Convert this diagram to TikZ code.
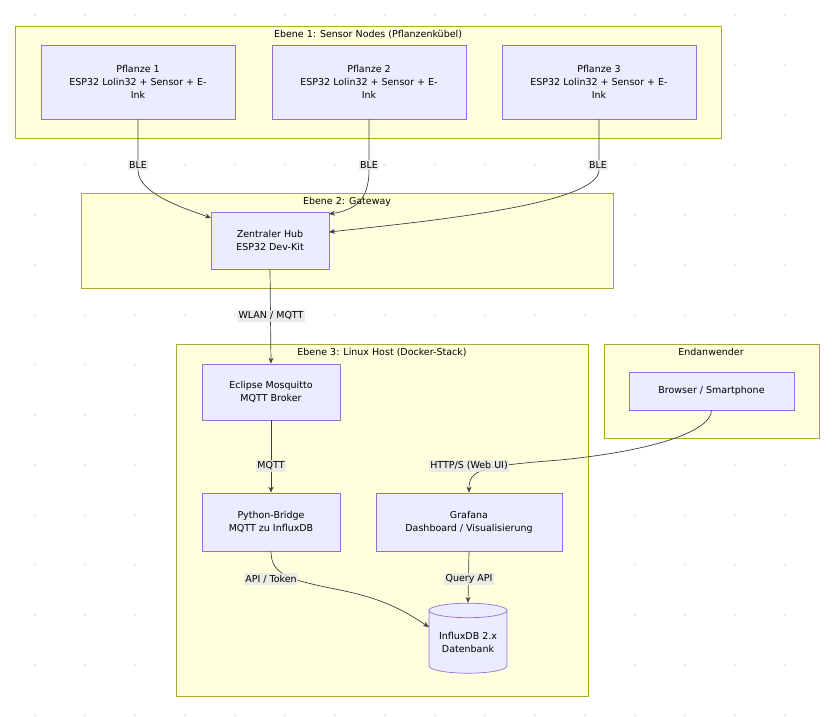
\documentclass[tikz,border=0pt]{standalone}
\usepackage{fontspec}
\setmainfont{DejaVu Sans}
\usetikzlibrary{shapes.geometric,arrows.meta}
\definecolor{nfill}{HTML}{ECECFF}
\definecolor{nbord}{HTML}{9370DB}
\definecolor{cfill}{HTML}{FFFFDE}
\definecolor{cbord}{HTML}{AAAA33}
\definecolor{lbl}{HTML}{E8E8E8}
\begin{document}
\begin{tikzpicture}[x=1pt,y=-1pt,
  font=\fontsize{9.5}{13}\selectfont,
  clus/.style={draw=cbord,fill=cfill,line width=0.7pt},
  ctitle/.style={anchor=north,inner sep=1pt},
  box/.style={draw=nbord,fill=nfill,line width=0.7pt,align=center,inner sep=0pt},
  elab/.style={fill=lbl,fill opacity=0.85,text opacity=1,inner sep=1.5pt},
  edge/.style={draw=black!75,line width=0.7pt,-{Stealth[length=6pt,width=5pt]}}]
\useasboundingbox (0,0) rectangle (832,716);
\fill[white] (0,0) rectangle (832,716);
\foreach \x in {35,85,...,835} \foreach \y in {15,65,...,715} \fill[black!12] (\x,\y) circle (1.2);
% clusters
\draw[clus] (15,26) rectangle (721,138);
\node[ctitle] (t1) at (368,29) {Ebene 1: Sensor Nodes (Pflanzenkübel)};
\draw[clus] (81,193) rectangle (613,288);
\node[ctitle] (t2) at (347,196) {Ebene 2: Gateway};
\draw[clus] (176,344) rectangle (588,696);
\node[ctitle] (t3) at (382,347) {Ebene 3: Linux Host (Docker-Stack)};
\draw[clus] (604,344) rectangle (819,438);
\node[ctitle] (t4) at (711,347) {Endanwender};
% nodes
\node[box,minimum width=194,minimum height=74] (p1) at (138,82) {Pflanze 1\\ESP32 Lolin32 + Sensor + E-\\Ink};
\node[box,minimum width=194,minimum height=74] (p2) at (369,82) {Pflanze 2\\ESP32 Lolin32 + Sensor + E-\\Ink};
\node[box,minimum width=194,minimum height=74] (p3) at (599,82) {Pflanze 3\\ESP32 Lolin32 + Sensor + E-\\Ink};
\node[box,minimum width=118,minimum height=57] (hub) at (270,240.5) {Zentraler Hub\\ESP32 Dev-Kit};
\node[box,minimum width=138,minimum height=56] (mq) at (271,392) {Eclipse Mosquitto\\MQTT Broker};
\node[box,minimum width=138,minimum height=58] (py) at (271,522) {Python-Bridge\\MQTT zu InfluxDB};
\node[box,minimum width=186,minimum height=58] (gr) at (469,522) {Grafana\\Dashboard / Visualisierung};
\node[box,minimum width=165,minimum height=38] (br) at (711.5,391) {Browser / Smartphone};
\node[box,cylinder,shape border rotate=90,aspect=0.25,minimum width=78,minimum height=70] (db) at (468,642) {InfluxDB 2.x\\Datenbank};
% edges
\coordinate (h1) at (211,218);
\coordinate (h2) at (329,214);
\coordinate (h3) at (329,232);
\draw[edge] (p1.south) -- (138,170) .. controls (138,195) and (190,210) .. (h1);
\draw[edge] (p2.south) -- (369,170) .. controls (369,200) and (355,210) .. (h2);
\draw[edge] (p3.south) -- (599,170) .. controls (599,205) and (420,222) .. (h3);
\draw[edge] (hub.south) -- (mq.north);
\draw[edge] (mq.south) -- (py.north);
\draw[edge] (br.south) .. controls (711,430) and (660,450) .. (560,460) .. controls (480,466) and (469,470) .. (gr.north);
\draw[edge] (py.south) .. controls (271,575) and (290,580) .. (340,590) .. controls (390,600) and (410,615) .. (429,627);
\draw[edge] (gr.south) -- (db.north);
% labels
\node[elab] (l1) at (138,165) {BLE};
\node[elab] (l2) at (369,165) {BLE};
\node[elab] (l3) at (598,165) {BLE};
\node[elab] (l4) at (271,316) {WLAN / MQTT};
\node[elab] (l5) at (271,466) {MQTT};
\node[elab] (l6) at (469,466) {HTTP/S (Web UI)};
\node[elab] (l7) at (271,579) {API / Token};
\node[elab] (l8) at (469,579) {Query API};
\end{tikzpicture}
\end{document}
